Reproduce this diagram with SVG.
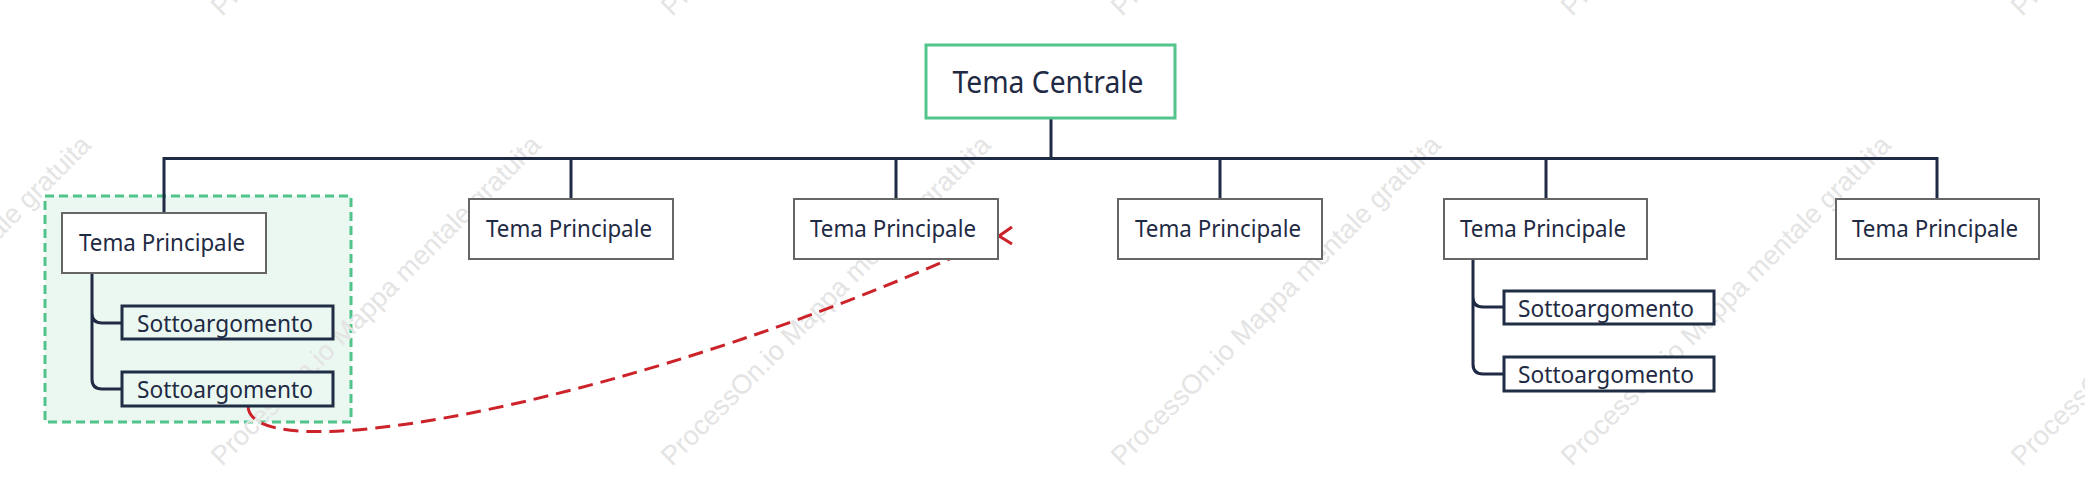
<svg xmlns="http://www.w3.org/2000/svg" width="2085" height="495" viewBox="0 0 2085 495">
<style>
.wm{font-family:"Liberation Sans",Arial,sans-serif;font-size:27px;fill:#e4e4e4}
.t{font-family:"Noto Sans","Open Sans",sans-serif;fill:#1f2a44;text-anchor:middle}
.main rect{fill:#fff;stroke:#666;stroke-width:2}
.sub rect{stroke:#1f2d45;stroke-width:3}
.ln{fill:none;stroke:#1f2a44;stroke-width:3}
</style>
<rect width="2085" height="495" fill="#fff"/>
<g id="summary-boundary">
<rect x="45" y="196" width="306" height="226" fill="#ebf8f1" stroke="#50c48a" stroke-width="3" stroke-dasharray="9 5"/>
</g>
<g id="watermarks">
<text class="wm" transform="translate(-228,467) rotate(-45)">ProcessOn.io Mappa mentale gratuita</text>
<text class="wm" transform="translate(222,467) rotate(-45)">ProcessOn.io Mappa mentale gratuita</text>
<text class="wm" transform="translate(672,467) rotate(-45)">ProcessOn.io Mappa mentale gratuita</text>
<text class="wm" transform="translate(1122,467) rotate(-45)">ProcessOn.io Mappa mentale gratuita</text>
<text class="wm" transform="translate(1572,467) rotate(-45)">ProcessOn.io Mappa mentale gratuita</text>
<text class="wm" transform="translate(2022,467) rotate(-45)">ProcessOn.io Mappa mentale gratuita</text>
<text class="wm" transform="translate(222,17) rotate(-45)">ProcessOn.io Mappa mentale gratuita</text>
<text class="wm" transform="translate(672,17) rotate(-45)">ProcessOn.io Mappa mentale gratuita</text>
<text class="wm" transform="translate(1122,17) rotate(-45)">ProcessOn.io Mappa mentale gratuita</text>
<text class="wm" transform="translate(1572,17) rotate(-45)">ProcessOn.io Mappa mentale gratuita</text>
<text class="wm" transform="translate(2022,17) rotate(-45)">ProcessOn.io Mappa mentale gratuita</text>
</g>
<g id="connectors">
<path class="ln" d="M1051 118 V158.5"/>
<path class="ln" d="M164 213 V158.5 H1937 V199"/>
<path class="ln" d="M571 158.5 V199 M896 158.5 V199 M1220 158.5 V199 M1546 158.5 V199"/>
<path class="ln" d="M92 273 V313 Q92 323 102 323 H122 M92 313 V379 Q92 389 102 389 H122"/>
<path class="ln" d="M1473 259 V297 Q1473 307 1483 307 H1504 M1473 297 V364 Q1473 374 1483 374 H1504"/>
<path d="M248 406 C250 475 650 400 1000 236" fill="none" stroke="#cc2229" stroke-width="3" stroke-dasharray="15 8"/>
<path d="M1012 227 L999 236 L1012 244" fill="none" stroke="#cc2229" stroke-width="3"/>
</g>
<g id="central">
<rect x="926" y="45" width="249" height="73" fill="#fff" stroke="#52c48c" stroke-width="3"/>
<text class="t" x="1048" y="93" font-size="30" textLength="191" lengthAdjust="spacingAndGlyphs">Tema Centrale</text>
</g>
<g id="main1" class="main"><rect x="62" y="213" width="204" height="60"/><text class="t" x="162" y="251" font-size="23" textLength="166" lengthAdjust="spacingAndGlyphs">Tema Principale</text></g>
<g id="main2" class="main"><rect x="469" y="199" width="204" height="60"/><text class="t" x="569" y="237" font-size="23" textLength="166" lengthAdjust="spacingAndGlyphs">Tema Principale</text></g>
<g id="main3" class="main"><rect x="794" y="199" width="204" height="60"/><text class="t" x="893" y="237" font-size="23" textLength="166" lengthAdjust="spacingAndGlyphs">Tema Principale</text></g>
<g id="main4" class="main"><rect x="1118" y="199" width="204" height="60"/><text class="t" x="1218" y="237" font-size="23" textLength="166" lengthAdjust="spacingAndGlyphs">Tema Principale</text></g>
<g id="main5" class="main"><rect x="1444" y="199" width="203" height="60"/><text class="t" x="1543" y="237" font-size="23" textLength="166" lengthAdjust="spacingAndGlyphs">Tema Principale</text></g>
<g id="main6" class="main"><rect x="1836" y="199" width="203" height="60"/><text class="t" x="1935" y="237" font-size="23" textLength="166" lengthAdjust="spacingAndGlyphs">Tema Principale</text></g>
<g id="sub1" class="sub"><rect x="122" y="306" width="211" height="33" fill="#ebf8f1"/><text class="t" x="225" y="332" font-size="23" textLength="176" lengthAdjust="spacingAndGlyphs">Sottoargomento</text></g>
<g id="sub2" class="sub"><rect x="122" y="372" width="211" height="34" fill="#ebf8f1"/><text class="t" x="225" y="398" font-size="23" textLength="176" lengthAdjust="spacingAndGlyphs">Sottoargomento</text></g>
<g id="sub3" class="sub"><rect x="1504" y="291" width="210" height="33" fill="#fff"/><text class="t" x="1606" y="317" font-size="23" textLength="176" lengthAdjust="spacingAndGlyphs">Sottoargomento</text></g>
<g id="sub4" class="sub"><rect x="1504" y="357" width="210" height="34" fill="#fff"/><text class="t" x="1606" y="383" font-size="23" textLength="176" lengthAdjust="spacingAndGlyphs">Sottoargomento</text></g>
</svg>
